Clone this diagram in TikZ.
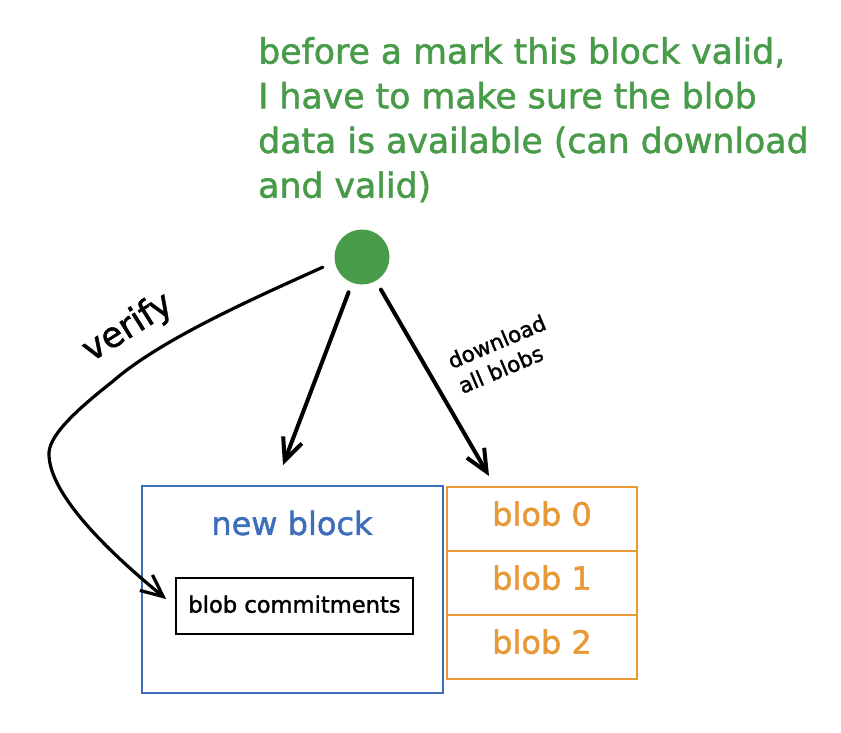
\documentclass[tikz,border=0pt]{standalone}
\usepackage{fontspec}
\setmainfont[FakeBold=1.5]{DejaVu Sans}
\usetikzlibrary{arrows.meta}
\definecolor{exgreen}{RGB}{72,155,72}
\definecolor{exblue}{RGB}{62,110,185}
\definecolor{exorange}{RGB}{232,152,52}
\begin{document}
\begin{tikzpicture}[x=1pt,y=-1pt,
  conn/.style={draw=black, line width=4pt, line cap=round, line join=round,
    -{Straight Barb[length=22pt,width=20pt]}},
  blobbox/.style={draw=exorange, line width=2.5pt, minimum width=190pt,
    minimum height=64pt, inner sep=0pt, text=exorange,
    font=\fontsize{32}{38}\selectfont, text depth=11pt},
  blockbox/.style={draw=exblue, line width=2.5pt, minimum width=301pt,
    minimum height=207pt, inner sep=0pt},
  commitbox/.style={draw=black, line width=2.5pt, minimum width=237pt,
    minimum height=56pt, inner sep=0pt, font=\fontsize{22.6}{27}\selectfont,
    text depth=4pt}
]
\useasboundingbox (0,0) rectangle (841,733);

% note text
\node[anchor=north west, inner sep=0pt, align=left, text=exgreen,
  font=\fontsize{34.7}{44.7}\selectfont] (note) at (258,37)
  {before a mark this block valid,\\I have to make sure the blob\\data is available (can download\\and valid)};

% green dot
\node[circle, fill=exgreen, minimum size=55pt, inner sep=0pt] (dot) at (362,257) {};

% boxes
\node[blockbox] (block) at (292.5,589.5) {};
\node[inner sep=0pt, text=exblue, font=\fontsize{32}{38}\selectfont] (title) at (292,523) {new block};
\node[commitbox] (commit) at (294.5,606) {blob commitments};

\node[blobbox] (blob0) at (542,519) {blob 0};
\node[blobbox] (blob1) at (542,583) {blob 1};
\node[blobbox] (blob2) at (542,647) {blob 2};

% free arrow ends
\coordinate (midtip) at (283,465);
\coordinate (righttip) at (489,476);

% arrows
\draw[conn, shorten <=10pt] (dot) -- (midtip);
\draw[conn, shorten <=10pt] (dot) -- (righttip);
\draw[conn, line width=3.2pt, shorten <=13pt, shorten >=11pt]
  (dot.190) .. controls (250,300) and (160,340) .. (112,382)
  .. controls (70,415) and (48,438) .. (49,455)
  .. controls (50,492) and (100,545) .. (commit.west);

% labels
\node[rotate=32, inner sep=0pt, font=\fontsize{35}{40}\selectfont] (verify) at (128,328) {verify};
\node[rotate=23, inner sep=0pt, align=left, font=\fontsize{21.5}{27}\selectfont] (dl) at (502,354) {download\\all blobs};
\end{tikzpicture}
\end{document}
